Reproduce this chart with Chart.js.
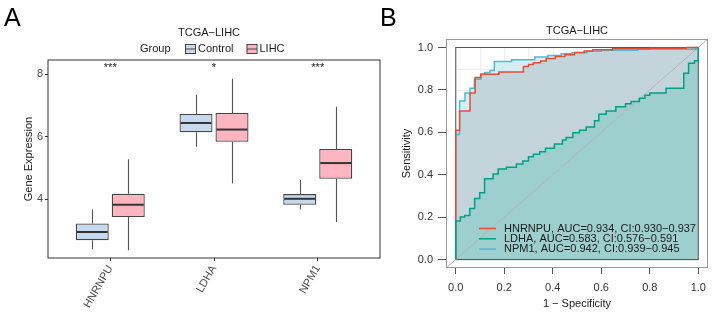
<!DOCTYPE html>
<html>
<head>
<meta charset="utf-8">
<script src="https://cdn.jsdelivr.net/npm/chart.js@4.4.0/dist/chart.umd.min.js"></script>
<style>
    body { margin: 0; background: #fff; width: 714px; height: 316px; position: relative; overflow: hidden;
           font-family: "Liberation Sans", Arial, sans-serif; }
    canvas { position: absolute; top: 0; }
    #graficoA { left: 0; }
    #graficoB { left: 392px; }
    .tag { position: absolute; font-size: 25px; line-height: 25px; color: #000; }
</style>
</head>
<body>
<canvas id="graficoA" width="392" height="316"></canvas>
<canvas id="graficoB" width="322" height="316"></canvas>
<div class="tag" style="left:4px; top:5px;">A</div>
<div class="tag" style="left:380px; top:5px;">B</div>

<script>
// Panel A: boxplot values
var genes = ["HNRNPU", "LDHA", "NPM1"];
var groups = ["Control", "LIHC"];
var ctrlMin = [2.41, 5.68, 3.68];
var ctrlQ1  = [2.70, 6.14, 3.83];
var ctrlMed = [2.96, 6.44, 4.02];
var ctrlQ3  = [3.23, 6.73, 4.17];
var ctrlMax = [3.68, 7.34, 4.62];
var lihcMin = [2.38, 4.51, 3.28];
var lihcQ1  = [3.44, 5.84, 4.66];
var lihcMed = [3.83, 6.23, 5.16];
var lihcQ3  = [4.18, 6.76, 5.61];
var lihcMax = [5.28, 7.85, 6.96];
var sigMarks = ["***", "*", "***"];
var yTicksA = [4, 6, 8];

// Panel B: ROC curve corners (go right to fpr, then up to tpr)
var rocNames = ["HNRNPU", "LDHA", "NPM1"];
var aucVals = ["0.934", "0.583", "0.942"];
var ciLow = ["0.930", "0.576", "0.939"];
var ciHigh = ["0.937", "0.591", "0.945"];
var hnrnpuFpr = [0, 0, 0.016, 0.059, 0.08, 0.103, 0.178, 0.279, 0.30, 0.32, 0.35, 0.373, 0.41, 0.45, 0.49, 0.53, 0.565, 0.647, 0.80, 0.95, 1];
var hnrnpuTpr = [0, 0.61, 0.70, 0.785, 0.858, 0.874, 0.884, 0.91, 0.92, 0.928, 0.936, 0.948, 0.958, 0.966, 0.976, 0.983, 0.989, 0.994, 0.996, 1.0, 1.0];
var ldhaFpr = [0, 0, 0.019, 0.037, 0.058, 0.078, 0.099, 0.119, 0.154, 0.175, 0.209, 0.25, 0.277, 0.30, 0.32, 0.346, 0.37, 0.407, 0.44, 0.455,
               0.483, 0.51, 0.538, 0.572, 0.59, 0.62, 0.66, 0.70, 0.723, 0.757, 0.78, 0.80, 0.867, 0.94, 0.96, 0.984, 1.0];
var ldhaTpr = [0, 0.182, 0.20, 0.208, 0.241, 0.288, 0.315, 0.381, 0.403, 0.427, 0.435, 0.45, 0.465, 0.485, 0.497, 0.508, 0.525, 0.545, 0.564, 0.575,
               0.598, 0.61, 0.625, 0.655, 0.685, 0.70, 0.72, 0.735, 0.745, 0.76, 0.775, 0.785, 0.808, 0.878, 0.926, 0.937, 1.0];
var npm1Fpr = [0, 0, 0.016, 0.038, 0.059, 0.077, 0.104, 0.12, 0.141, 0.159, 0.23, 0.326, 0.38, 0.435, 0.48, 0.54, 0.60, 0.75, 0.99, 1];
var npm1Tpr = [0, 0.59, 0.748, 0.785, 0.808, 0.85, 0.874, 0.882, 0.891, 0.934, 0.942, 0.955, 0.962, 0.97, 0.975, 0.982, 0.987, 0.992, 1.0, 1.0];
var rocTicks = [0, 0.2, 0.4, 0.6, 0.8, 1.0];

Chart.defaults.font.family = '"Liberation Sans", Arial, sans-serif';
Chart.defaults.font.size = 11;

var groupFill = ["#c6d9ef", "#ffb5c0"];
var lineColors = { HNRNPU: "#E64B35", LDHA: "#00A087", NPM1: "#4DBBD5" };

// ---------- Panel A ----------
var boxStats = [
    { min: ctrlMin, med: ctrlMed, max: ctrlMax, q1: ctrlQ1, q3: ctrlQ3 },
    { min: lihcMin, med: lihcMed, max: lihcMax, q1: lihcQ1, q3: lihcQ3 }
];

var boxExtras = {
    id: "boxExtras",
    beforeDatasetsDraw: function (chart) {
        // whiskers, under the boxes
        var ctx = chart.ctx, y = chart.scales.y;
        ctx.save();
        ctx.strokeStyle = "#555";
        ctx.lineWidth = 1.1;
        boxStats.forEach(function (s, d) {
            chart.getDatasetMeta(d).data.forEach(function (bar, i) {
                var x = Math.round(bar.x) + 0.5;
                ctx.beginPath();
                ctx.moveTo(x, y.getPixelForValue(s.max[i]));
                ctx.lineTo(x, y.getPixelForValue(s.q3[i]));
                ctx.moveTo(x, y.getPixelForValue(s.q1[i]));
                ctx.lineTo(x, y.getPixelForValue(s.min[i]));
                ctx.stroke();
            });
        });
        ctx.restore();
    },
    afterDatasetsDraw: function (chart) {
        var ctx = chart.ctx, y = chart.scales.y, xs = chart.scales.x, area = chart.chartArea;
        ctx.save();
        // medians
        ctx.strokeStyle = "#333";
        ctx.lineWidth = 2;
        boxStats.forEach(function (s, d) {
            chart.getDatasetMeta(d).data.forEach(function (bar, i) {
                var py = y.getPixelForValue(s.med[i]);
                ctx.beginPath();
                ctx.moveTo(bar.x - bar.width / 2 + 1, py);
                ctx.lineTo(bar.x + bar.width / 2 - 1, py);
                ctx.stroke();
            });
        });
        // significance stars
        ctx.fillStyle = "#222";
        ctx.font = '11px "Liberation Sans", Arial, sans-serif';
        ctx.textAlign = "center";
        ctx.textBaseline = "middle";
        sigMarks.forEach(function (m, i) {
            ctx.fillText(m, xs.getPixelForValue(i + 1), area.top + 8);
        });
        // panel border
        ctx.strokeStyle = "#333";
        ctx.lineWidth = 1;
        ctx.strokeRect(area.left, area.top, area.right - area.left, area.bottom - area.top);
        ctx.restore();
    },
    afterDraw: function (chart) {
        var ctx = chart.ctx;
        ctx.save();
        ctx.fillStyle = "#1a1a1a";
        ctx.font = '11px "Liberation Sans", Arial, sans-serif';
        ctx.textBaseline = "middle";
        ctx.textAlign = "center";
        ctx.fillText("TCGA\u2212LIHC", 209, 33);
        ctx.textAlign = "left";
        ctx.fillText("Group", 140, 48.5);
        var gx = [185, 246.5];
        groups.forEach(function (g, i) {
            ctx.fillStyle = groupFill[i];
            ctx.fillRect(gx[i], 44, 10, 9);
            ctx.strokeStyle = "#444";
            ctx.lineWidth = 1;
            ctx.strokeRect(gx[i] + 0.5, 44.5, 10, 9);
            ctx.beginPath();
            ctx.moveTo(gx[i] + 0.5, 49);
            ctx.lineTo(gx[i] + 10.5, 49);
            ctx.stroke();
            ctx.fillStyle = "#1a1a1a";
            ctx.fillText(g, gx[i] + 13, 48.5);
        });
        ctx.restore();
    }
};

new Chart(document.getElementById("graficoA"), {
    type: "bar",
    data: {
        datasets: [{
            label: groups[0],
            data: genes.map(function (g, i) { return { x: i + 1, y: [ctrlQ1[i], ctrlQ3[i]] }; }),
            backgroundColor: groupFill[0],
            borderColor: "#444",
            borderWidth: 1.3,
            borderSkipped: false,
            categoryPercentage: 0.694,
            barPercentage: 0.917
        }, {
            label: groups[1],
            data: genes.map(function (g, i) { return { x: i + 1, y: [lihcQ1[i], lihcQ3[i]] }; }),
            backgroundColor: groupFill[1],
            borderColor: "#444",
            borderWidth: 1.3,
            borderSkipped: false,
            categoryPercentage: 0.694,
            barPercentage: 0.917
        }]
    },
    options: {
        responsive: false,
        animation: false,
        devicePixelRatio: 1,
        layout: { padding: { top: 60, right: 12, left: 0, bottom: 0 } },
        plugins: { legend: { display: false }, tooltip: { enabled: false } },
        scales: {
            x: {
                type: "linear",
                offset: false,
                min: 0.4,
                max: 3.6,
                afterBuildTicks: function (s) { s.ticks = genes.map(function (g, i) { return { value: i + 1 }; }); },
                afterFit: function (s) { s.height = 58; },
                ticks: {
                    minRotation: 60, maxRotation: 60, autoSkip: false, color: "#4d4d4d", padding: 2,
                    callback: function (v) { return genes[v - 1]; }
                },
                grid: { offset: false, drawOnChartArea: false, tickLength: 3, color: "#333" },
                border: { display: false }
            },
            y: {
                min: 2.13,
                max: 8.45,
                afterBuildTicks: function (s) { s.ticks = yTicksA.map(function (v) { return { value: v }; }); },
                afterFit: function (s) { s.width = 48; },
                ticks: { color: "#4d4d4d", padding: 2 },
                grid: { drawOnChartArea: false, tickLength: 3, color: "#333" },
                border: { display: false },
                title: { display: true, text: "Gene Expression", color: "#1a1a1a", font: { size: 11 }, padding: { top: 22, bottom: 0 } }
            }
        }
    },
    plugins: [boxExtras]
});

// ---------- Panel B ----------
function rocPoints(fpr, tpr) {
    return fpr.map(function (x, i) { return { x: x, y: tpr[i] }; });
}

var rocExtras = {
    id: "rocExtras",
    beforeDraw: function (chart) {
        // faint background grid
        var ctx = chart.ctx, x = chart.scales.x, y = chart.scales.y;
        ctx.save();
        ctx.strokeStyle = "#eeeeee";
        ctx.lineWidth = 1;
        for (var k = 0; k <= 10; k++) {
            var px = Math.round(x.getPixelForValue(k / 10)) + 0.5;
            var py = Math.round(y.getPixelForValue(k / 10)) + 0.5;
            ctx.beginPath();
            ctx.moveTo(px, y.getPixelForValue(0)); ctx.lineTo(px, y.getPixelForValue(1));
            ctx.moveTo(x.getPixelForValue(0), py); ctx.lineTo(x.getPixelForValue(1), py);
            ctx.stroke();
        }
        ctx.restore();
    },
    beforeDatasetsDraw: function (chart) {
        var ctx = chart.ctx, x = chart.scales.x, y = chart.scales.y, area = chart.chartArea;
        ctx.save();
        // outline of the unit square
        ctx.strokeStyle = "#555";
        ctx.lineWidth = 1;
        var x0 = x.getPixelForValue(0), x1 = x.getPixelForValue(1);
        var y0 = y.getPixelForValue(0), y1 = y.getPixelForValue(1);
        ctx.strokeRect(x0, y1, x1 - x0, y0 - y1);
        // chance diagonal
        ctx.strokeStyle = "#b5b5b5";
        ctx.beginPath();
        ctx.moveTo(x.getPixelForValue(x.min), y.getPixelForValue(y.min));
        ctx.lineTo(x.getPixelForValue(x.max), y.getPixelForValue(y.max));
        ctx.stroke();
        // plot box
        ctx.strokeStyle = "#999";
        ctx.strokeRect(area.left + 0.5, area.top + 0.5, area.right - area.left - 1, area.bottom - area.top - 1);
        ctx.restore();
    },
    afterDraw: function (chart) {
        var ctx = chart.ctx, area = chart.chartArea;
        ctx.save();
        ctx.font = '11px "Liberation Sans", Arial, sans-serif';
        ctx.textBaseline = "middle";
        ctx.fillStyle = "#1a1a1a";
        ctx.textAlign = "center";
        ctx.fillText("TCGA\u2212LIHC", (area.left + area.right) / 2, 31);
        ctx.textAlign = "left";
        rocNames.forEach(function (n, i) {
            var ly = area.bottom - 39.5 + i * 10.3;
            ctx.strokeStyle = lineColors[n];
            ctx.lineWidth = 1.5;
            ctx.beginPath();
            ctx.moveTo(area.left + 33, ly);
            ctx.lineTo(area.left + 50, ly);
            ctx.stroke();
            ctx.fillText(n + ", AUC=" + aucVals[i] + ", CI:" + ciLow[i] + "\u2212" + ciHigh[i], area.left + 58, ly);
        });
        ctx.restore();
    }
};

var rocCommon = { stepped: true, pointRadius: 0, borderWidth: 1.5, tension: 0, fill: "origin" };

new Chart(document.getElementById("graficoB"), {
    type: "line",
    data: {
        datasets: [
            Object.assign({ label: "LDHA", data: rocPoints(ldhaFpr, ldhaTpr), borderColor: lineColors.LDHA, backgroundColor: "#9dcfcf" }, rocCommon),
            Object.assign({ label: "HNRNPU", data: rocPoints(hnrnpuFpr, hnrnpuTpr), borderColor: lineColors.HNRNPU, backgroundColor: "#c3d5db" }, rocCommon),
            Object.assign({ label: "NPM1", data: rocPoints(npm1Fpr, npm1Tpr), borderColor: lineColors.NPM1, backgroundColor: "#d5eef5" }, rocCommon)
        ]
    },
    options: {
        responsive: false,
        animation: false,
        devicePixelRatio: 1,
        layout: { padding: { top: 39, right: 6, left: 0, bottom: 0 } },
        plugins: {
            legend: { display: false },
            tooltip: { enabled: false },
            filler: { drawTime: "beforeDatasetsDraw" }
        },
        scales: {
            x: {
                type: "linear",
                min: -0.04,
                max: 1.04,
                afterBuildTicks: function (s) { s.ticks = rocTicks.map(function (v) { return { value: v }; }); },
                afterFit: function (s) { s.height = 48; },
                ticks: { color: "#333", padding: 7, callback: function (v) { return v.toFixed(1); } },
                grid: { drawOnChartArea: false, tickLength: 6, color: "#555" },
                border: { display: false },
                title: { display: true, text: "1 \u2212 Specificity", color: "#1a1a1a", padding: { top: 0, bottom: 5 } }
            },
            y: {
                min: -0.04,
                max: 1.04,
                afterBuildTicks: function (s) { s.ticks = rocTicks.map(function (v) { return { value: v }; }); },
                afterFit: function (s) { s.width = 54; },
                ticks: { color: "#333", padding: 5, callback: function (v) { return v.toFixed(1); } },
                grid: { drawOnChartArea: false, tickLength: 8, color: "#555" },
                border: { display: false },
                title: { display: true, text: "Sensitivity", color: "#1a1a1a", padding: { top: 8, bottom: 0 } }
            }
        }
    },
    plugins: [rocExtras]
});
</script>
</body>
</html>
